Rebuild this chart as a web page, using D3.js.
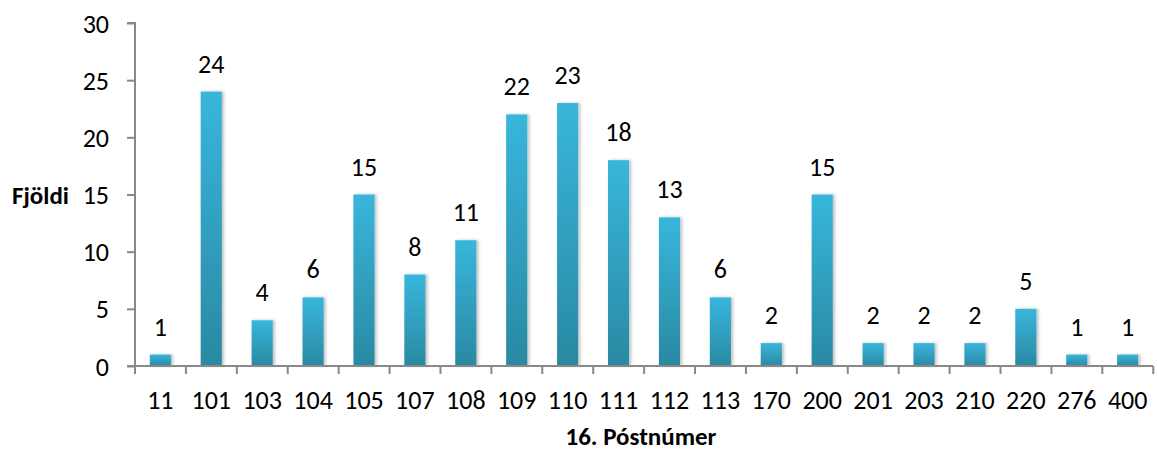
<!DOCTYPE html>
<html>
<head>
<meta charset="utf-8">
<script src="https://cdn.jsdelivr.net/npm/d3@7"></script>
<style>
  body { margin: 0; background: #fff; }
  text { font-family: Carlito, Calibri, "Open Sans", sans-serif; fill: #000; }
</style>
</head>
<body>
<svg id="chart" width="1157" height="451"></svg>
<script>
var categories = ['11', '101', '103', '104', '105', '107', '108', '109', '110', '111', '112', '113', '170', '200', '201', '203', '210', '220', '276', '400'];
var counts = [1, 24, 4, 6, 15, 8, 11, 22, 23, 18, 13, 6, 2, 15, 2, 2, 2, 5, 1, 1];
var yTicks = [0, 5, 10, 15, 20, 25, 30];

var svg = d3.select('#chart');
var plotLeft = 135, plotRight = 1153, plotTop = 23, plotBottom = 366;

var x = d3.scaleBand().domain(categories).range([plotLeft, plotRight]).paddingInner(0.585).paddingOuter(0.29);
var y = d3.scaleLinear().domain([0, 30]).range([plotBottom, plotTop]);

var defs = svg.append('defs');
var grad = defs.append('linearGradient').attr('id', 'barGrad')
  .attr('x1', 0).attr('y1', 0).attr('x2', 0).attr('y2', 1);
grad.append('stop').attr('offset', '0%').attr('stop-color', '#38b6dc');
grad.append('stop').attr('offset', '100%').attr('stop-color', '#2a89a2');

var shadow = defs.append('filter').attr('id', 'shadow').attr('x', '-20%').attr('width', '150%');
shadow.append('feDropShadow').attr('dx', 2).attr('dy', 0).attr('stdDeviation', 1.5)
  .attr('flood-color', '#000').attr('flood-opacity', 0.25);

svg.append('g').selectAll('rect').data(counts).enter().append('rect')
  .attr('x', function(d, i) { return x(categories[i]); })
  .attr('y', function(d) { return y(d); })
  .attr('width', x.bandwidth())
  .attr('height', function(d) { return plotBottom - y(d); })
  .attr('fill', 'url(#barGrad)')
  .attr('filter', 'url(#shadow)');

svg.append('g').selectAll('text').data(counts).enter().append('text')
  .attr('x', function(d, i) { return x(categories[i]) + x.bandwidth() / 2; })
  .attr('y', function(d) { return y(d) - 19; })
  .attr('text-anchor', 'middle')
  .style('font-size', '26px')
  .text(function(d) { return d; });

// y axis
var yAxis = svg.append('g').attr('transform', 'translate(' + plotLeft + ',0)')
  .call(d3.axisLeft(y).tickValues(yTicks).tickSize(8).tickPadding(18));
yAxis.selectAll('text').style('font-size', '26px').attr('dy', '0.35em');

// x axis, ticks sit on the band boundaries
var xAxis = svg.append('g').attr('transform', 'translate(0,' + plotBottom + ')');
xAxis.append('line').attr('x1', plotLeft).attr('x2', plotRight).attr('y1', 0).attr('y2', 0);
var bounds = d3.range(categories.length + 1).map(function(i) { return plotLeft + i * x.step(); });
xAxis.selectAll('.tk').data(bounds).enter().append('line')
  .attr('x1', function(d) { return d; }).attr('x2', function(d) { return d; })
  .attr('y1', 0).attr('y2', 8);
xAxis.selectAll('text').data(categories).enter().append('text')
  .attr('x', function(d) { return x(d) + x.bandwidth() / 2; })
  .attr('y', 43)
  .attr('text-anchor', 'middle')
  .style('font-size', '26px')
  .text(function(d) { return d; });

svg.selectAll('.domain, line').attr('stroke', '#898989').attr('stroke-width', 2);
yAxis.select('.domain').attr('d', 'M-8,' + plotTop + 'H0V' + plotBottom + 'H-8');

svg.append('text').attr('x', 641).attr('y', 445).attr('text-anchor', 'middle')
  .style('font-size', '25px').style('font-weight', 'bold').text('16. Póstnúmer');
svg.append('text').attr('x', 12).attr('y', 204)
  .style('font-size', '25px').style('font-weight', 'bold').text('Fjöldi');
</script>
</body>
</html>
